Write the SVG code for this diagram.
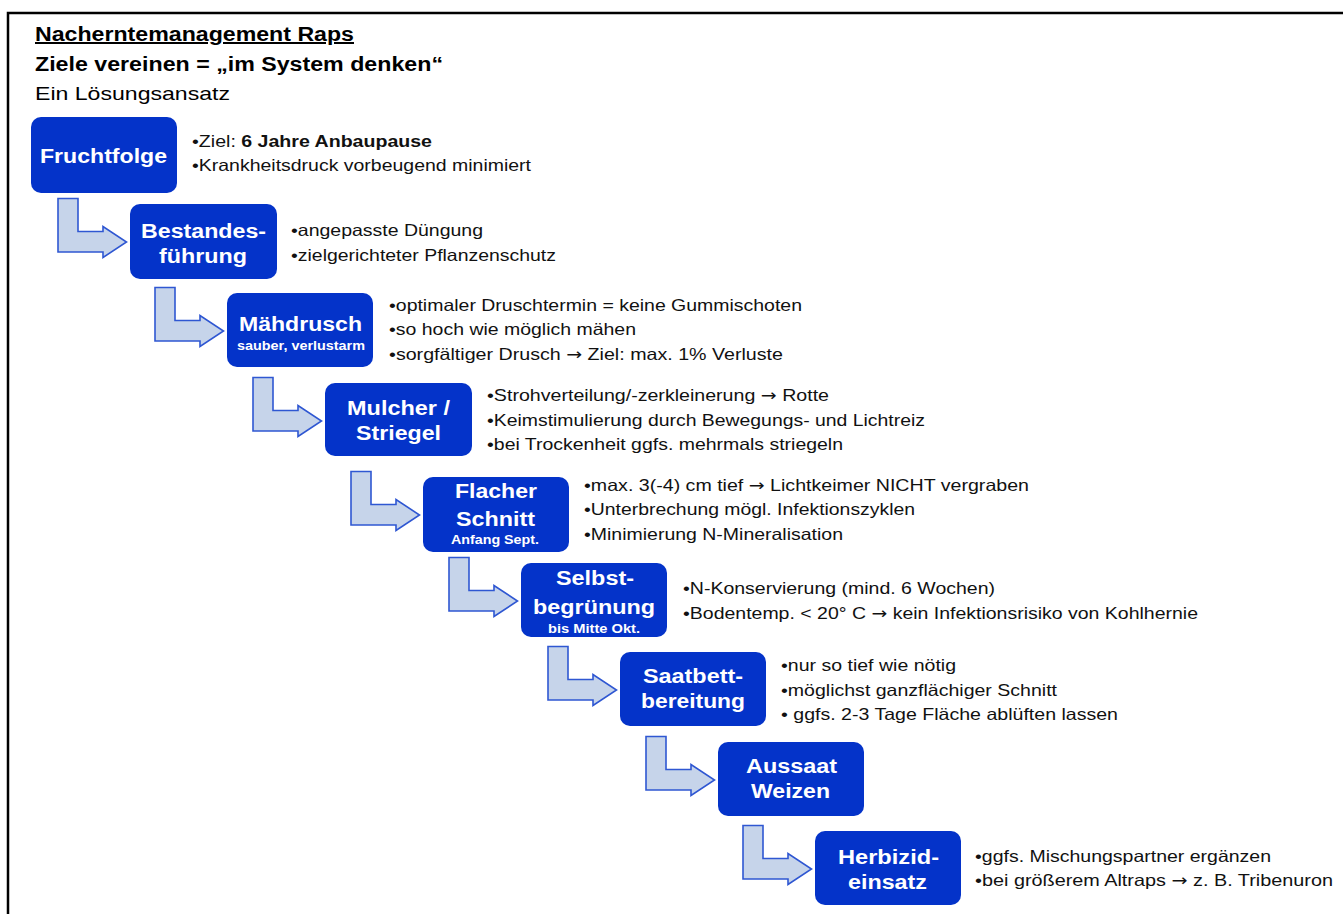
<svg xmlns="http://www.w3.org/2000/svg" xmlns:xlink="http://www.w3.org/1999/xlink" width="1343" height="914" viewBox="0 0 1343 914">
<style>
text{font-family:"Liberation Sans",Arial,sans-serif}
.box{fill:#0433c9}
.t{fill:#fff;font-weight:bold;font-size:20px}
.s{fill:#fff;font-weight:bold;font-size:12.5px}
.b{fill:#111;font-size:16.5px}
.h{fill:#000;font-size:20px}
.ar{font-family:"DejaVu Sans",sans-serif;font-size:16px}
.arr{fill:#c6d4ea;stroke:#2f57d2;stroke-width:1.6;stroke-linejoin:miter}
</style>
<defs>
<path id="arrow" class="arr" d="M-72,-5.5 H-52 V27.5 H-27 V22.5 L-3.5,38 L-27,53.5 V48 H-72 Z"/>
</defs>
<rect x="8" y="13" width="1400" height="1000" fill="none" stroke="#000" stroke-width="2.5"/>
<g id="header">
<text class="h" x="35" y="41" font-weight="bold" text-decoration="underline" textLength="319" lengthAdjust="spacingAndGlyphs">Nacherntemanagement Raps</text>
<text class="h" x="35" y="71" font-weight="bold" textLength="408" lengthAdjust="spacingAndGlyphs">Ziele vereinen = „im System denken“</text>
<text class="h" x="35" y="100" style="font-size:19px" textLength="195" lengthAdjust="spacingAndGlyphs">Ein Lösungsansatz</text>
</g>
<g id="connectors">
<use xlink:href="#arrow" x="130" y="204"/>
<use xlink:href="#arrow" x="227" y="293"/>
<use xlink:href="#arrow" x="325" y="383"/>
<use xlink:href="#arrow" x="423" y="477"/>
<use xlink:href="#arrow" x="521" y="563"/>
<use xlink:href="#arrow" x="620" y="652"/>
<use xlink:href="#arrow" x="718" y="742"/>
<use xlink:href="#arrow" x="815" y="831"/>
</g>
<g id="n1">
<rect class="box" x="31" y="117" width="146" height="76" rx="10"/>
<text class="t" x="40" y="163" textLength="127" lengthAdjust="spacingAndGlyphs">Fruchtfolge</text>
<text class="b" x="192" y="147" textLength="240" lengthAdjust="spacingAndGlyphs">•Ziel: <tspan font-weight="bold">6 Jahre Anbaupause</tspan></text>
<text class="b" x="192" y="171" textLength="339" lengthAdjust="spacingAndGlyphs">•Krankheitsdruck vorbeugend minimiert</text>
</g>
<g id="n2">
<rect class="box" x="130" y="204" width="147" height="75" rx="10"/>
<text class="t" x="141" y="238" textLength="125" lengthAdjust="spacingAndGlyphs">Bestandes-</text>
<text class="t" x="159" y="263" textLength="88" lengthAdjust="spacingAndGlyphs">führung</text>
<text class="b" x="291" y="236" textLength="192" lengthAdjust="spacingAndGlyphs">•angepasste Düngung</text>
<text class="b" x="291" y="261" textLength="265" lengthAdjust="spacingAndGlyphs">•zielgerichteter Pflanzenschutz</text>
</g>
<g id="n3">
<rect class="box" x="227" y="293" width="146" height="74" rx="10"/>
<text class="t" x="239" y="331" textLength="123" lengthAdjust="spacingAndGlyphs">Mähdrusch</text>
<text class="s" x="237" y="350" textLength="128" lengthAdjust="spacingAndGlyphs">sauber, verlustarm</text>
<text class="b" x="389" y="311" textLength="413" lengthAdjust="spacingAndGlyphs">•optimaler Druschtermin = keine Gummischoten</text>
<text class="b" x="389" y="335" textLength="247" lengthAdjust="spacingAndGlyphs">•so hoch wie möglich mähen</text>
<text class="b" x="389" y="360" textLength="394" lengthAdjust="spacingAndGlyphs">•sorgfältiger Drusch <tspan class="ar">→</tspan> Ziel: max. 1% Verluste</text>
</g>
<g id="n4">
<rect class="box" x="325" y="383" width="147" height="73" rx="10"/>
<text class="t" x="347" y="415" textLength="103" lengthAdjust="spacingAndGlyphs">Mulcher /</text>
<text class="t" x="356" y="440" textLength="85" lengthAdjust="spacingAndGlyphs">Striegel</text>
<text class="b" x="487" y="401" textLength="342" lengthAdjust="spacingAndGlyphs">•Strohverteilung/-zerkleinerung <tspan class="ar">→</tspan> Rotte</text>
<text class="b" x="487" y="426" textLength="438" lengthAdjust="spacingAndGlyphs">•Keimstimulierung durch Bewegungs- und Lichtreiz</text>
<text class="b" x="487" y="450" textLength="356" lengthAdjust="spacingAndGlyphs">•bei Trockenheit ggfs. mehrmals striegeln</text>
</g>
<g id="n5">
<rect class="box" x="423" y="477" width="146" height="75" rx="10"/>
<text class="t" x="455" y="498" textLength="82" lengthAdjust="spacingAndGlyphs">Flacher</text>
<text class="t" x="456" y="526" textLength="79" lengthAdjust="spacingAndGlyphs">Schnitt</text>
<text class="s" x="451" y="544" textLength="88" lengthAdjust="spacingAndGlyphs">Anfang Sept.</text>
<text class="b" x="584" y="491" textLength="445" lengthAdjust="spacingAndGlyphs">•max. 3(-4) cm tief <tspan class="ar">→</tspan> Lichtkeimer NICHT vergraben</text>
<text class="b" x="584" y="515" textLength="331" lengthAdjust="spacingAndGlyphs">•Unterbrechung mögl. Infektionszyklen</text>
<text class="b" x="584" y="540" textLength="259" lengthAdjust="spacingAndGlyphs">•Minimierung N-Mineralisation</text>
</g>
<g id="n6">
<rect class="box" x="521" y="563" width="146" height="74" rx="10"/>
<text class="t" x="556" y="585" textLength="78" lengthAdjust="spacingAndGlyphs">Selbst-</text>
<text class="t" x="533" y="614" textLength="122" lengthAdjust="spacingAndGlyphs">begrünung</text>
<text class="s" x="548" y="633" textLength="92" lengthAdjust="spacingAndGlyphs">bis Mitte Okt.</text>
<text class="b" x="683" y="594" textLength="312" lengthAdjust="spacingAndGlyphs">•N-Konservierung (mind. 6 Wochen)</text>
<text class="b" x="683" y="619" textLength="515" lengthAdjust="spacingAndGlyphs">•Bodentemp. &lt; 20° C <tspan class="ar">→</tspan> kein Infektionsrisiko von Kohlhernie</text>
</g>
<g id="n7">
<rect class="box" x="620" y="652" width="146" height="74" rx="10"/>
<text class="t" x="643" y="683" textLength="100" lengthAdjust="spacingAndGlyphs">Saatbett-</text>
<text class="t" x="641" y="708" textLength="104" lengthAdjust="spacingAndGlyphs">bereitung</text>
<text class="b" x="781" y="671" textLength="175" lengthAdjust="spacingAndGlyphs">•nur so tief wie nötig</text>
<text class="b" x="781" y="696" textLength="276" lengthAdjust="spacingAndGlyphs">•möglichst ganzflächiger Schnitt</text>
<text class="b" x="781" y="720" textLength="337" lengthAdjust="spacingAndGlyphs">• ggfs. 2-3 Tage Fläche ablüften lassen</text>
</g>
<g id="n8">
<rect class="box" x="718" y="742" width="146" height="74" rx="10"/>
<text class="t" x="746" y="773" textLength="91" lengthAdjust="spacingAndGlyphs">Aussaat</text>
<text class="t" x="751" y="798" textLength="79" lengthAdjust="spacingAndGlyphs">Weizen</text>
</g>
<g id="n9">
<rect class="box" x="815" y="831" width="146" height="74" rx="10"/>
<text class="t" x="838" y="864" textLength="101" lengthAdjust="spacingAndGlyphs">Herbizid-</text>
<text class="t" x="848" y="889" textLength="79" lengthAdjust="spacingAndGlyphs">einsatz</text>
<text class="b" x="975" y="862" textLength="296" lengthAdjust="spacingAndGlyphs">•ggfs. Mischungspartner ergänzen</text>
<text class="b" x="975" y="886" textLength="358" lengthAdjust="spacingAndGlyphs">•bei größerem Altraps <tspan class="ar">→</tspan> z. B. Tribenuron</text>
</g>
</svg>
